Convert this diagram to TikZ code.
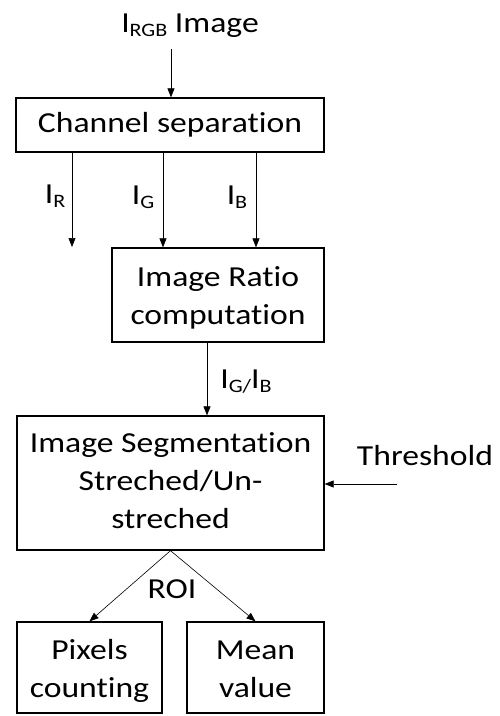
\documentclass[tikz,border=0pt]{standalone}
\usepackage{fontspec}
\setmainfont{Carlito}[Ligatures=NoCommon]
\usetikzlibrary{arrows.meta}

% the reference text is set a bit wide
\newcommand{\wtxt}[1]{\scalebox{1.16}[1]{\strut #1}}
\newcommand{\chsub}[1]{\raisebox{-0.3ex}{\fontsize{19}{19}\selectfont #1}}
\newcommand{\dropline}{\rule{0pt}{33pt}}

\tikzset{
	box/.style={draw, line width=1.3pt, align=center, inner sep=0pt,
		font=\fontsize{29}{38}\selectfont},
	lbl/.style={anchor=base, inner sep=0pt, font=\fontsize{29}{38}\selectfont},
	flow/.style={-{Triangle[length=9pt,width=7pt]}, line width=0.6pt}
}

\begin{document}
\begin{tikzpicture}[x=1pt, y=-1pt]
\useasboundingbox (0,0) rectangle (500,716);

\pgfmathsetmacro{\clR}{72}
\pgfmathsetmacro{\clG}{163}
\pgfmathsetmacro{\clB}{256}
\pgfmathsetmacro{\clRatio}{207}

\node[lbl] (rgb) at (190,32) {\wtxt{I\chsub{RGB} Image}};
\node[box, minimum width=308pt, minimum height=54pt] (chan) at (170,125) {\wtxt{Channel separation}};
\node[box, minimum width=212pt, minimum height=94pt] (ratio) at (218,295) {\dropline\wtxt{Image Ratio}\\\wtxt{computation}};
\node[box, minimum width=307pt, minimum height=134pt] (seg) at (170.5,483) {\wtxt{Image Segmentation}\\\wtxt{Streched/Un-}\\\wtxt{streched}};
\node[box, minimum width=145pt, minimum height=91pt] (pix) at (89.5,667.5) {\dropline\wtxt{Pixels}\\\wtxt{counting}};
\node[box, minimum width=137pt, minimum height=91pt] (mean) at (255.5,667.5) {\dropline\wtxt{Mean}\\\wtxt{value}};

\node[lbl] (thr) at (425,465) {\wtxt{Threshold}};
\node[lbl] (lr) at (55,203) {\wtxt{I\chsub{R}}};
\node[lbl] (lg) at (143,204) {\wtxt{I\chsub{G}}};
\node[lbl] (lb) at (237,204) {\wtxt{I\chsub{B}}};
\node[lbl] (lgb) at (246,388) {\wtxt{I\chsub{G/}I\chsub{B}}};
\node[lbl] (roi) at (172,598) {\wtxt{ROI}};

\coordinate (rgbout) at (171,49);
\coordinate (rend) at (\clR,247);
\coordinate (throut) at (397,484);

\draw[flow] (rgbout) -- (rgbout |- chan.north);
\draw[flow] (\clR,0 |- chan.south) -- (rend);
\draw[flow] (\clG,0 |- chan.south) -- (\clG,0 |- ratio.north);
\draw[flow] (\clB,0 |- chan.south) -- (\clB,0 |- ratio.north);
\draw[flow] (\clRatio,0 |- ratio.south) -- (\clRatio,0 |- seg.north);
\draw[flow] (throut) -- (throut -| seg.east);
\draw[flow] (seg.south) -- (pix.north);
\draw[flow] (seg.south) -- (mean.north);
\end{tikzpicture}
\end{document}
